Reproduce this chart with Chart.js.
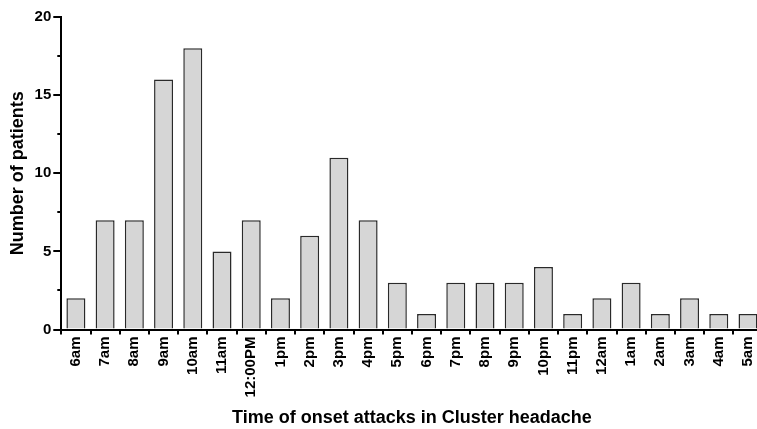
<!DOCTYPE html>
<html>
<head>
<meta charset="utf-8">
<script src="https://cdn.jsdelivr.net/npm/chart.js@4"></script>
<style>
  html, body { margin: 0; padding: 0; background: #fff; overflow: hidden; }
  body { width: 757px; height: 429px; }
  #wrap { width: 768px; height: 429px; }
</style>
</head>
<body>
<div id="wrap"><canvas id="myChart"></canvas></div>
<script>
const horas = ["6am", "7am", "8am", "9am", "10am", "11am", "12:00PM", "1pm", "2pm", "3pm", "4pm", "5pm",
  "6pm", "7pm", "8pm", "9pm", "10pm", "11pm", "12am", "1am", "2am", "3am", "4am", "5am"];
const pacientes = [2, 7, 7, 16, 18, 5, 7, 2, 6, 11, 7, 3, 1, 3, 3, 3, 4, 1, 2, 3, 1, 2, 1, 1];
const yTicks = [0, 5, 10, 15, 20];

const fuente = "'Liberation Sans', Arial, sans-serif";

// ticks menores (cada 2.5) mas cortos que los principales
const ticksMenores = {
  id: "ticksMenores",
  afterDraw(c) {
    const y = c.scales.y;
    const ctx = c.ctx;
    ctx.save();
    ctx.strokeStyle = "#000";
    ctx.lineWidth = 2;
    y.ticks.forEach((t) => {
      if (yTicks.includes(t.value)) return;
      const py = Math.round(y.getPixelForValue(t.value));
      ctx.beginPath();
      ctx.moveTo(y.right - 4, py);
      ctx.lineTo(y.right, py);
      ctx.stroke();
    });
    ctx.restore();
  }
};

const chart = new Chart(document.querySelector("#myChart"), {
  type: "bar",
  data: {
    labels: horas,
    datasets: [{
      label: "Pacientes",
      data: pacientes,
      backgroundColor: "#d6d6d6",
      borderColor: "#2a2a2a",
      borderWidth: 1.5,
      barPercentage: 0.65,
      categoryPercentage: 1
    }]
  },
  options: {
    responsive: true,
    maintainAspectRatio: false,
    animation: false,
    layout: { padding: { top: 17, right: 0, left: 7, bottom: 0 } },
    plugins: { legend: { display: false }, tooltip: { enabled: false } },
    scales: {
      x: {
        border: { color: "#000", width: 2 },
        grid: { display: true, drawOnChartArea: false, tickLength: 5, color: "#000", lineWidth: 2 },
        ticks: {
          color: "#000", minRotation: 90, maxRotation: 90, padding: 2, autoSkip: false,
          font: { family: fuente, size: 15, weight: "bold" }
        },
        title: {
          display: true, text: "Time of onset attacks in Cluster headache", color: "#000",
          font: { family: fuente, size: 18, weight: "bold" }, padding: { top: 8, bottom: 0 }
        }
      },
      y: {
        min: 0, max: 20,
        border: { color: "#000", width: 2 },
        grid: {
          display: true, drawOnChartArea: false, tickLength: 8, lineWidth: 2,
          tickColor: (ctx) => yTicks.includes(ctx.tick.value) ? "#000" : "rgba(0,0,0,0)"
        },
        ticks: {
          stepSize: 2.5, color: "#000", padding: 2,
          font: { family: fuente, size: 15, weight: "bold" },
          callback: (v) => yTicks.includes(v) ? v : ""
        },
        title: {
          display: true, text: "Number of patients", color: "#000",
          font: { family: fuente, size: 18, weight: "bold" }, padding: { top: 0, bottom: 4 }
        }
      }
    }
  },
  plugins: [ticksMenores]
});
</script>
</body>
</html>
